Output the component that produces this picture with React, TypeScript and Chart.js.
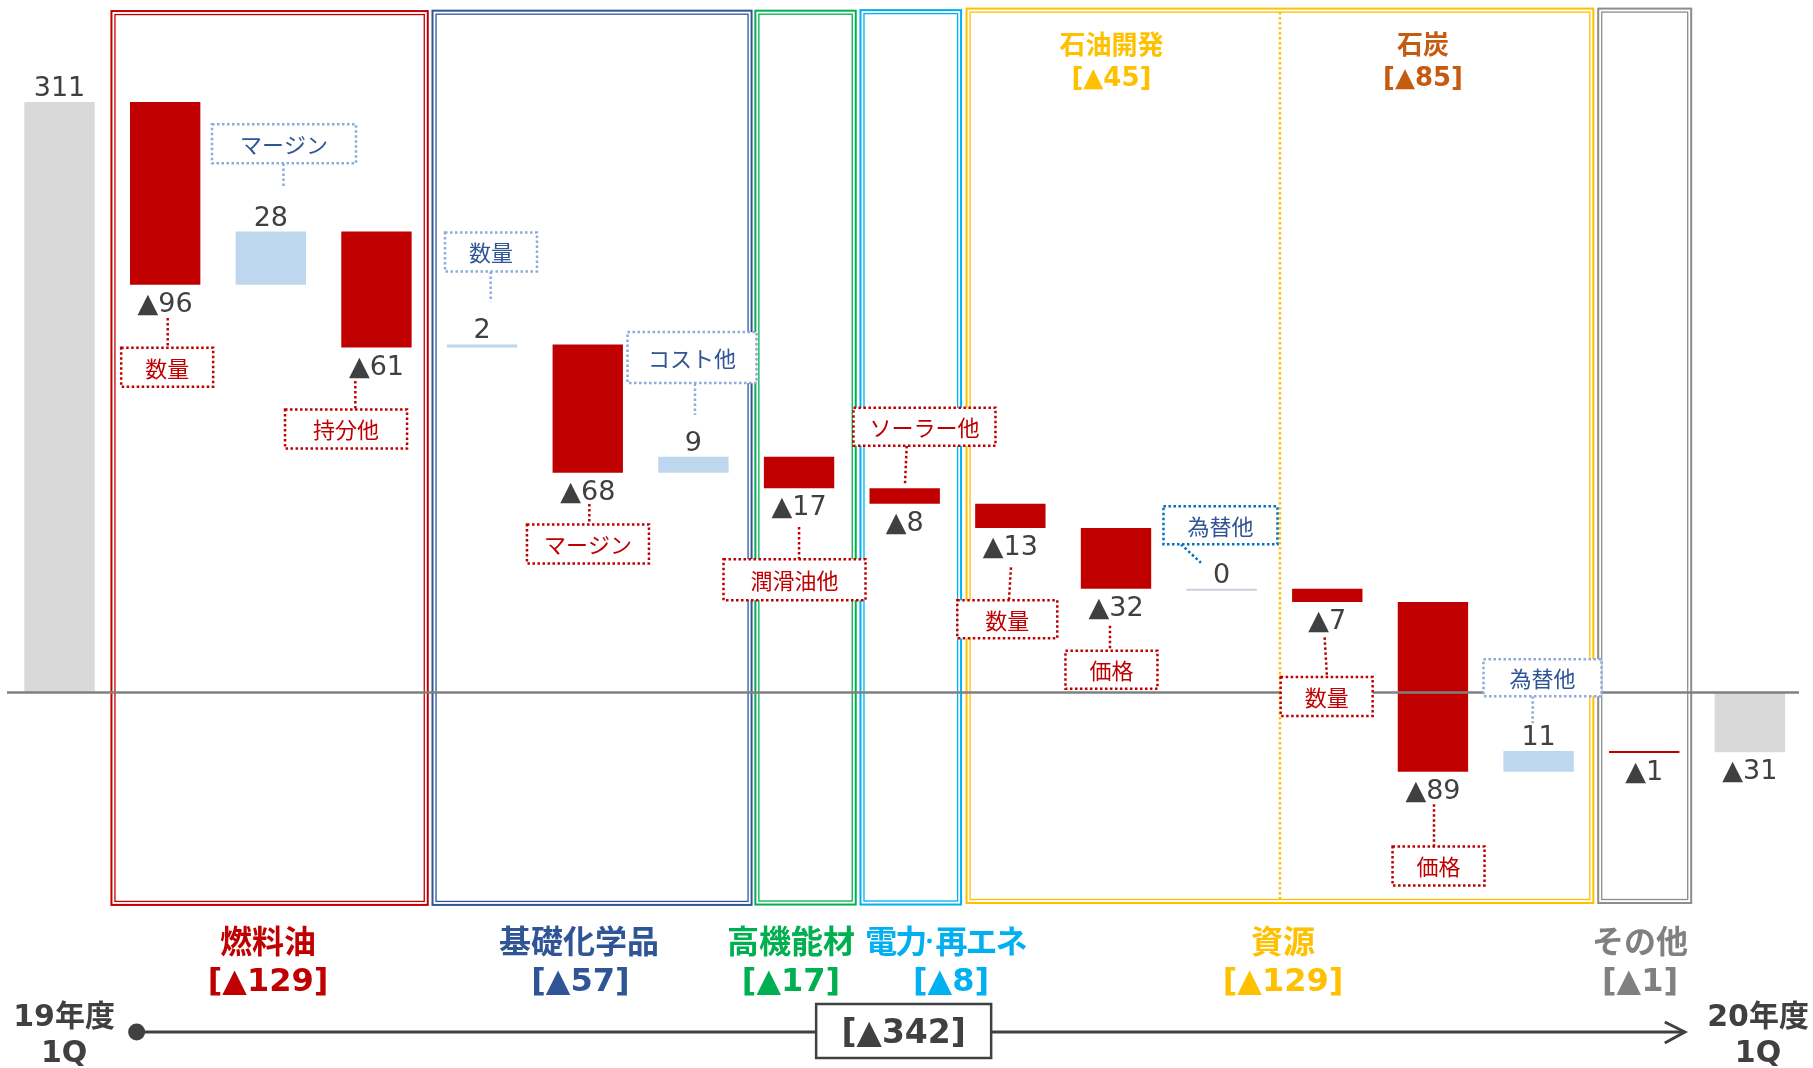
import React, { useEffect, useRef } from 'react';
import { Chart, registerables } from 'chart.js';

Chart.register(...registerables);

// ---------- data ----------
const categories = [
  '19年度1Q', '燃料油 数量', '燃料油 マージン', '燃料油 持分他',
  '基礎化学品 数量', '基礎化学品 マージン', '基礎化学品 コスト他',
  '高機能材 潤滑油他', '電力・再エネ ソーラー他',
  '石油開発 数量', '石油開発 価格', '石油開発 為替他',
  '石炭 数量', '石炭 価格', '石炭 為替他', 'その他', '20年度1Q',
];
const startTotal = 311;
const endTotal = -31.6;
const deltas = [-96.2, 28.0, -61.1, 1.6, -67.6, 8.4, -16.5, -8.2, -12.8, -32.0, 0, -7.0, -89.4, 10.9, -0.6];
const valueLabels = ['311', '▲96', '28', '▲61', '2', '▲68', '9', '▲17', '▲8', '▲13', '▲32', '0', '▲7', '▲89', '11', '▲1', '▲31'];

const groupNames = ['燃料油', '基礎化学品', '高機能材', '電力・再エネ', '資源', 'その他'];
const groupTotals = ['[▲129]', '[▲57]', '[▲17]', '[▲8]', '[▲129]', '[▲1]'];
const subGroupNames = ['石油開発', '石炭'];
const subGroupTotals = ['[▲45]', '[▲85]'];
const grandTotal = '[▲342]';
const periodLabels = [['19年度', '1Q'], ['20年度', '1Q']];

const factorNotes = ['マージン', '数量', '持分他', '数量', 'コスト他', 'マージン', '潤滑油他', 'ソーラー他', '数量', '価格', '為替他', '数量', '価格', '為替他'];

// ---------- styles / layout (not data) ----------
const RED = '#C00000';
const LBLUE = '#BDD7EE';
const GRAY = '#D9D9D9';
const TXT = '#404040';
const BLUE_TXT = '#2F5597';
const FONT_NUM = '"DejaVu Sans", "Noto Sans CJK JP", sans-serif';
const FONT_JP = '"Noto Sans CJK JP", sans-serif';

const groupColors = ['#C00000', '#2F5597', '#00B050', '#00B0F0', '#FFC000', '#808080'];
const groupCenters = [1.974, 4.917, 6.924, 8.386, 11.581, 14.96];
const groupTotalCenters = [1.974, 4.93, 6.924, 8.438, 11.581, 14.96];
const subGroupColors = ['#FFC000', '#C55A11'];
const subGroupCenters = [9.957, 12.906];

const frames = [
  { from: 0.482, to: 3.495, top: 359.5, bottom: -112.5, color: '#C00000' },
  { from: 3.521, to: 6.560, top: 359.7, bottom: -112.5, color: '#2F5597' },
  { from: 6.577, to: 7.546, top: 359.7, bottom: -112.3, color: '#00B050' },
  { from: 7.572, to: 8.543, top: 360.0, bottom: -112.3, color: '#00B0F0' },
  { from: 8.576, to: 14.528, top: 360.8, bottom: -111.5, color: '#FFC000' },
  { from: 14.555, to: 15.454, top: 360.8, bottom: -111.5, color: '#8C8C8C' },
];
const dottedDivider = { x: 11.552, top: 358.5, bottom: -109.5, color: '#FFC000' };

// note boxes in data units: x (category position), y (value); w/h in px
const noteLayout = [
  { x: 2.125, y: 289.0, w: 144, h: 39, kind: 'blue', line: [2.120, 278.7, 2.120, 266.2] },
  { x: 1.019, y: 171.3, w: 92, h: 39, kind: 'red', line: [1.024, 197.2, 1.024, 181.6] },
  { x: 2.712, y: 138.8, w: 122, h: 39, kind: 'red', line: [2.800, 164.0, 2.800, 149.1] },
  { x: 4.084, y: 232.0, w: 92, h: 39, kind: 'blue', line: [4.081, 221.8, 4.081, 205.8] },
  { x: 5.987, y: 176.4, w: 129, h: 51, kind: 'blue', line: [6.015, 162.8, 6.015, 146.1] },
  { x: 5.002, y: 78.2, w: 122, h: 39, kind: 'red', line: [5.015, 99.2, 5.015, 88.5] },
  { x: 6.957, y: 59.4, w: 142, h: 41, kind: 'red', line: [7.0, 87.2, 7.0, 70.2] },
  { x: 8.187, y: 139.9, w: 142, h: 38, kind: 'red', line: [8.019, 129.9, 8.003, 110.1] },
  { x: 8.971, y: 38.5, w: 100, h: 38, kind: 'red', line: [9.006, 65.9, 8.987, 48.6] },
  { x: 9.957, y: 11.9, w: 92, h: 38, kind: 'red', line: [9.943, 35.1, 9.943, 21.9] },
  { x: 10.989, y: 88.0, w: 114, h: 38, kind: 'mblue', line: [10.615, 78.0, 10.804, 68.3] },
  { x: 11.994, y: -2.2, w: 92, h: 39, kind: 'red', line: [11.975, 29.0, 11.997, 7.9] },
  { x: 13.053, y: -91.5, w: 92, h: 39, kind: 'red', line: [13.010, -58.9, 13.010, -81.3] },
  { x: 14.037, y: 7.7, w: 118, h: 37, kind: 'blue', line: [13.944, -2.1, 13.944, -16.3] },
];
const noteStyles: Record<string, { border: string; text: string }> = {
  red: { border: '#C00000', text: '#C00000' },
  blue: { border: '#8FAADC', text: BLUE_TXT },
  mblue: { border: '#0070C0', text: BLUE_TXT },
};

// ---------- build floating bars ----------
function buildBars() {
  const bars: [number, number][] = [];
  const colors: string[] = [];
  const up: boolean[] = [];
  bars.push([0, startTotal]);
  colors.push(GRAY);
  up.push(true);
  let run = startTotal;
  deltas.forEach((d) => {
    const next = run + d;
    bars.push([Math.min(run, next), Math.max(run, next)]);
    if (d > 0) colors.push(LBLUE);
    else if (d === 0) colors.push('#C8D0DC');
    else colors.push(RED);
    up.push(d >= 0);
    run = next;
  });
  bars.push([endTotal, 0]);
  colors.push(GRAY);
  up.push(endTotal >= 0);
  return { bars, colors, up };
}

// draw text centered at x; the "・" gets a narrow advance and characters are set slightly tighter
function fillNarrowDot(ctx: CanvasRenderingContext2D, text: string, x: number, y: number) {
  if (!text.includes('・')) {
    ctx.fillText(text, x, y);
    return;
  }
  const em = parseFloat((ctx.font.match(/(\d+(?:\.\d+)?)px/) || [])[1] || '32');
  const chars = Array.from(text);
  const tight = 2;
  const adv = chars.map((ch) => (ch === '・' ? em * 0.32 : ctx.measureText(ch).width - tight));
  const total = adv.reduce((a, b) => a + b, 0);
  const prevAlign = ctx.textAlign;
  ctx.textAlign = 'left';
  let cx = x - total / 2;
  chars.forEach((ch, i) => {
    if (ch === '・') {
      ctx.beginPath();
      ctx.arc(cx + adv[i] / 2 - 1, y, em * 0.075, 0, Math.PI * 2);
      ctx.fill();
    } else {
      ctx.fillText(ch, cx, y);
    }
    cx += adv[i];
  });
  ctx.textAlign = prevAlign;
}

export default function App() {
  const ref = useRef<HTMLCanvasElement | null>(null);

  useEffect(() => {
    document.body.style.margin = '0';
    const canvas = ref.current;
    if (!canvas) return;
    const { bars, colors, up } = buildBars();

    const xv = (chart: any, v: number) => {
      const s = chart.scales.x;
      const p0 = s.getPixelForValue(0);
      const p1 = s.getPixelForValue(1);
      return p0 + v * (p1 - p0);
    };
    const yv = (chart: any, v: number) => chart.scales.y.getPixelForValue(v);

    const decor = {
      id: 'decor',
      beforeDatasetsDraw(chart: any) {
        const ctx = chart.ctx;
        ctx.save();
        frames.forEach((f) => {
          const x1 = xv(chart, f.from), x2 = xv(chart, f.to);
          const y1 = yv(chart, f.top), y2 = yv(chart, f.bottom);
          ctx.strokeStyle = f.color;
          ctx.lineWidth = 2;
          ctx.strokeRect(x1 + 1, y1 + 1, x2 - x1 - 2, y2 - y1 - 2);
          ctx.lineWidth = 1.3;
          ctx.strokeRect(x1 + 4.5, y1 + 4.5, x2 - x1 - 9, y2 - y1 - 9);
        });
        ctx.setLineDash([2.5, 2.5]);
        ctx.lineWidth = 2.5;
        ctx.strokeStyle = dottedDivider.color;
        const dx = xv(chart, dottedDivider.x);
        ctx.beginPath();
        ctx.moveTo(dx, yv(chart, dottedDivider.top));
        ctx.lineTo(dx, yv(chart, dottedDivider.bottom));
        ctx.stroke();
        ctx.setLineDash([]);
        ctx.restore();
      },
      afterDatasetsDraw(chart: any) {
        const ctx = chart.ctx;
        const meta = chart.getDatasetMeta(0);
        ctx.save();
        const y0 = yv(chart, 0);
        ctx.strokeStyle = '#808080';
        ctx.lineWidth = 2.5;
        ctx.beginPath();
        ctx.moveTo(xv(chart, -0.497), y0);
        ctx.lineTo(xv(chart, 16.465), y0);
        ctx.stroke();

        noteLayout.forEach((n, i) => {
          const st = noteStyles[n.kind];
          ctx.setLineDash([2.5, 2.5]);
          ctx.lineWidth = 2.5;
          ctx.strokeStyle = st.border;
          ctx.beginPath();
          ctx.moveTo(xv(chart, n.line[0]), yv(chart, n.line[1]));
          ctx.lineTo(xv(chart, n.line[2]), yv(chart, n.line[3]));
          ctx.stroke();
          const cx = xv(chart, n.x), cy = yv(chart, n.y);
          ctx.setLineDash([]);
          ctx.fillStyle = '#FFFFFF';
          ctx.fillRect(cx - n.w / 2, cy - n.h / 2, n.w, n.h);
          ctx.setLineDash([2.5, 2.5]);
          ctx.strokeRect(cx - n.w / 2, cy - n.h / 2, n.w, n.h);
          ctx.setLineDash([]);
          ctx.fillStyle = st.text;
          ctx.font = '22px ' + FONT_JP;
          ctx.textAlign = 'center';
          ctx.textBaseline = 'middle';
          ctx.fillText(factorNotes[i], cx, cy + 1);
        });

        ctx.font = '27px ' + FONT_NUM;
        ctx.fillStyle = TXT;
        ctx.textAlign = 'center';
        ctx.textBaseline = 'alphabetic';
        meta.data.forEach((el: any, i: number) => {
          const top = Math.min(el.y, el.base);
          const bottom = Math.max(el.y, el.base);
          if (up[i]) ctx.fillText(valueLabels[i], el.x, top - 6);
          else ctx.fillText(valueLabels[i], el.x, bottom + 27);
        });

        subGroupNames.forEach((name, i) => {
          const x = xv(chart, subGroupCenters[i]);
          ctx.fillStyle = subGroupColors[i];
          ctx.font = 'bold 26px ' + FONT_JP;
          ctx.textBaseline = 'middle';
          ctx.fillText(name, x, 44);
          ctx.font = 'bold 26px ' + FONT_NUM;
          ctx.textBaseline = 'alphabetic';
          ctx.fillText(subGroupTotals[i], x, 86);
        });

        groupNames.forEach((name, i) => {
          ctx.fillStyle = groupColors[i];
          ctx.font = 'bold 32px ' + FONT_JP;
          ctx.textAlign = 'center';
          ctx.textBaseline = 'middle';
          fillNarrowDot(ctx, name, xv(chart, groupCenters[i]), 941);
          ctx.font = 'bold 32px ' + FONT_NUM;
          ctx.textAlign = 'center';
          ctx.textBaseline = 'alphabetic';
          ctx.fillText(groupTotals[i], xv(chart, groupTotalCenters[i]), 991);
        });

        const ty = 1032;
        const xs = xv(chart, 0.73);
        const xe = xv(chart, 15.384);
        ctx.strokeStyle = TXT;
        ctx.fillStyle = TXT;
        ctx.lineWidth = 3;
        ctx.beginPath();
        ctx.moveTo(xs, ty);
        ctx.lineTo(xe, ty);
        ctx.stroke();
        ctx.beginPath();
        ctx.moveTo(xe - 20, ty - 10);
        ctx.lineTo(xe, ty);
        ctx.lineTo(xe - 20, ty + 11);
        ctx.stroke();
        ctx.beginPath();
        ctx.arc(xs, ty, 8.5, 0, Math.PI * 2);
        ctx.fill();

        const bx = xv(chart, 7.99);
        ctx.fillStyle = '#FFFFFF';
        ctx.fillRect(bx - 87.5, 1004, 175, 54);
        ctx.lineWidth = 2.5;
        ctx.strokeRect(bx - 87.5, 1004, 175, 54);
        ctx.fillStyle = TXT;
        ctx.font = 'bold 33px ' + FONT_NUM;
        ctx.textAlign = 'center';
        ctx.fillText(grandTotal, bx, 1043);

        const px = [xv(chart, 0.043), xv(chart, 16.077)];
        periodLabels.forEach((lines, i) => {
          ctx.font = 'bold 30px ' + FONT_NUM;
          ctx.fillStyle = TXT;
          ctx.fillText(lines[0], px[i], 1026);
          ctx.fillText(lines[1], px[i], 1062);
        });
        ctx.restore();
      },
    };

    const chart = new Chart(canvas, {
      type: 'bar',
      data: {
        labels: categories,
        datasets: [
          {
            data: bars as any,
            backgroundColor: colors,
            borderWidth: 0,
            minBarLength: 2,
            categoryPercentage: 1,
            barPercentage: 0.666,
          } as any,
        ],
      },
      options: {
        responsive: false,
        animation: false,
        devicePixelRatio: 1,
        layout: { padding: { left: 6.7, right: 10.3, top: 0, bottom: 0 } },
        plugins: { legend: { display: false }, tooltip: { enabled: false } },
        scales: {
          x: { display: false, offset: true, grid: { display: false } },
          y: { display: false, min: -197.9, max: 364.8 },
        },
      },
      plugins: [decor],
    });
    return () => chart.destroy();
  }, []);

  return (
    <div style={{ width: 1813, height: 1068, background: '#FFFFFF' }}>
      <canvas ref={ref} width={1813} height={1068} style={{ display: 'block' }} />
    </div>
  );
}
